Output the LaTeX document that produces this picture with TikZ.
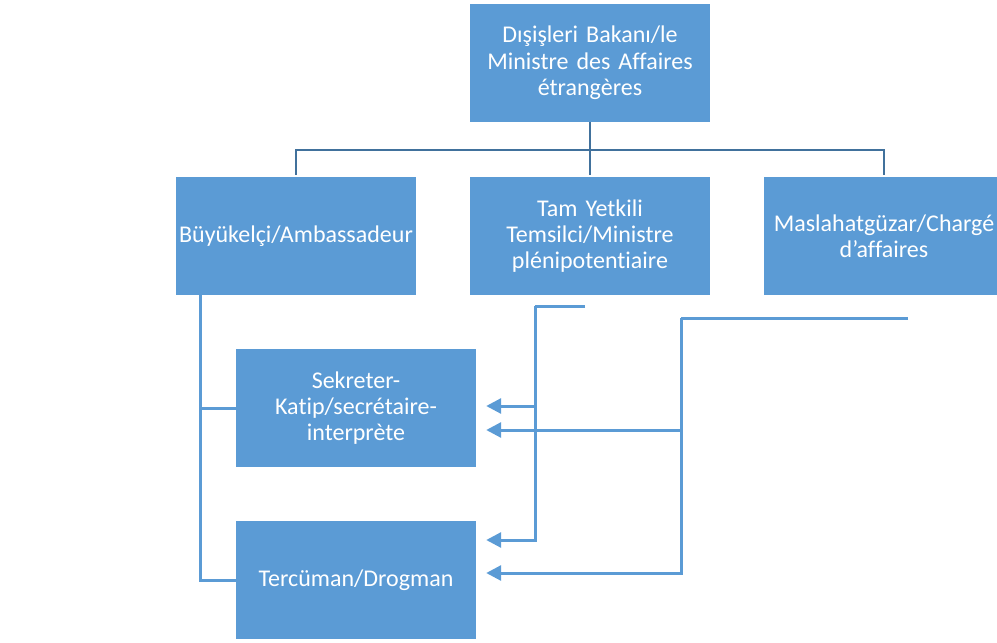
\documentclass[tikz,border=0pt]{standalone}
\usepackage{fontspec}
\setmainfont{Carlito}[Ligatures=NoCommon]
\usepackage{tikz}
\usetikzlibrary{arrows.meta}
\definecolor{orgblue}{HTML}{5B9BD5}
\definecolor{orgdark}{HTML}{41719C}
\pgfkeys{tikz/orgbox/.style={rectangle, fill=orgblue, text=white,
                                 minimum width=240pt, minimum height=118pt,
                                 text width=238pt, align=center, inner sep=0pt,
                                 font=\fontsize{24}{26.4}\selectfont}}
\pgfkeys{tikz/busline/.style={draw=orgdark, line width=2.5pt}}
\pgfkeys{tikz/linkline/.style={draw=orgblue, line width=3pt}}
\pgfkeys{tikz/linkarrow/.style={linkline, -{Triangle[length=15pt,width=15pt]}}}

\begin{document}
\begin{tikzpicture}[x=1pt,y=-1pt]
                    \useasboundingbox (0,0) rectangle (997,643);
                    \node [orgbox] (min) at (590,63) {Dışişleri Bakanı/le\\ Ministre des Affaires\\ étrangères};
                    \node [orgbox] (amb) at (296,236) {Büyükelçi/Ambassadeur};
                    \node [orgbox] (tam) at (590,236) {Tam Yetkili\\ Temsilci/Ministre\\ plénipotentiaire};
                    \node [orgbox] (mas) at (884,236) {Maslahatgüzar/Chargé\\ d’affaires};
                    \node [orgbox] (sek) at (356,408) {Sekreter-\\ Katip/secrétaire-\\ interprète};
                    \node [orgbox] (ter) at (356,580) {Tercüman/Drogman};
                        % minister to the three heads of mission
                        \coordinate (bus) at ([shift={(0,28)}]min.south);
                        \draw [busline] (min.south) -- (bus);
                        \draw [busline,shorten >=2pt] (bus) -| (amb.north);
                        \draw [busline,shorten >=2pt] (bus) -- (tam.north);
                        \draw [busline,shorten >=2pt] (bus) -| (mas.north);
        
                        % ambassadeur
                        \coordinate (ambdown) at ([shift={(-96,0)}]amb.south);
                        \draw [linkline] (ambdown) |- (sek.west);
                        \draw [linkline] (ambdown) |- (ter.west);
        
                        % ministre plenipotentiaire
                        \coordinate (tamend) at ([shift={(-5,11)}]tam.south);
                        \coordinate (tamcol) at ([shift={(-55,11)}]tam.south);
                        \draw [linkline] (tamend) -- (tamcol);
                        \draw [linkarrow] (tamcol) |- ([shift={(10,-2)}]sek.east);
                        \draw [linkarrow] (tamcol) |- ([shift={(10,-40)}]ter.east);
        
                        % charge d'affaires
                        \coordinate (masend) at ([shift={(24,23)}]mas.south);
                        \coordinate (mascol) at ([shift={(-203,23)}]mas.south);
                        \draw [linkline] (masend) -- (mascol);
                        \draw [linkarrow] (mascol) |- ([shift={(10,22)}]sek.east);
                        \draw [linkarrow] (mascol) |- ([shift={(10,-7)}]ter.east);
                \end{tikzpicture}
\end{document}
